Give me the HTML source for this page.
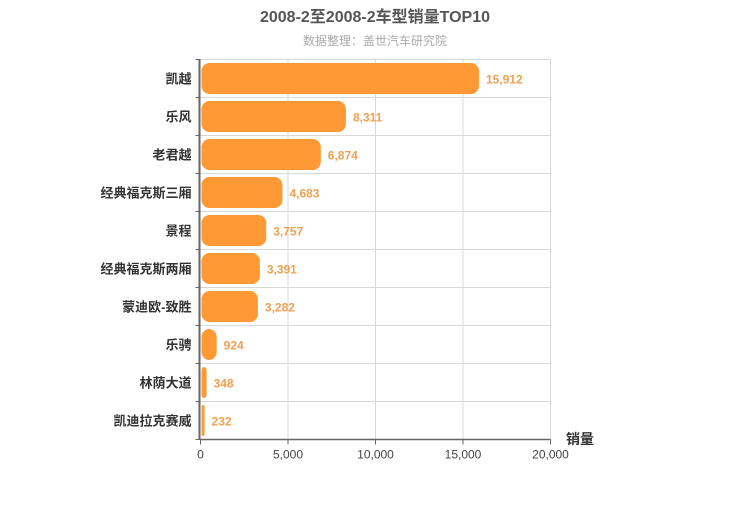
<!DOCTYPE html>
<html><head><meta charset="utf-8"><style>
body{margin:0;background:#fff;}
svg text{font-family:"Liberation Sans","Noto Sans CJK SC",sans-serif;}
</style></head><body>
<svg width="750" height="500">
<text x="375" y="22" text-anchor="middle" font-size="16" font-weight="bold" fill="#555">2008-2至2008-2车型销量TOP10</text>
<text x="375" y="45" text-anchor="middle" font-size="12" fill="#aaa">数据整理：盖世汽车研究院</text>
<g id="grid"></g>
<g id="bars"></g>
<g id="axes"></g>
<text x="580" y="444" text-anchor="middle" font-size="14" font-weight="bold" fill="#333">销量</text>
</svg>
<script>
const categories=["凯越","乐风","老君越","经典福克斯三厢","景程","经典福克斯两厢","蒙迪欧-致胜","乐骋","林荫大道","凯迪拉克赛威"];
const values=[15912,8311,6874,4683,3757,3391,3282,924,348,232];
const xTicks=[0,5000,10000,15000,20000];
const x0=200.5,x1=550.5,yTop=59.5,yBot=439.5,xMax=20000;
const ns="http://www.w3.org/2000/svg";
const band=(yBot-yTop)/categories.length;
function xs(v){return x0+(x1-x0)*v/xMax;}
function mk(p,t,a){const e=document.createElementNS(ns,t);for(const k in a)e.setAttribute(k,a[k]);p.appendChild(e);return e;}
const grid=document.getElementById('grid'),bars=document.getElementById('bars'),axes=document.getElementById('axes');
xTicks.forEach(t=>{if(t>0){const l=mk(grid,'line',{x1:xs(t),x2:xs(t),y1:yTop,y2:yBot,stroke:'#d8d8d8'});

}
const tk=mk(axes,'line',{x1:xs(t),x2:xs(t),y1:yBot,y2:yBot+5,stroke:'#666'});


const tl=mk(axes,'text',{x:xs(t),y:yBot+19,'text-anchor':'middle','font-size':12,fill:'#444'});
tl.textContent=t.toLocaleString('en-US');

});
for(let i=1;i<categories.length;i++){const l=mk(grid,'line',{x1:x0,x2:x1,y1:yTop+band*i,y2:yTop+band*i,stroke:'#d8d8d8'});

}
mk(grid,'line',{x1:x0,x2:x1,y1:yTop,y2:yTop,stroke:'#d8d8d8'});
categories.forEach((c,i)=>{const cy=yTop+band*(i+0.5);const w=xs(values[i])-x0;
const r=mk(bars,'rect',{x:x0+1,y:cy-15.5,width:Math.max(w-1,1),height:31,rx:Math.min(8,w/2),fill:'#ff9933'});


const v=mk(bars,'text',{x:xs(values[i])+7,y:cy+5,'font-size':12,'font-weight':'bold',fill:'#f0a050'});
v.textContent=values[i].toLocaleString('en-US');


const cl=mk(axes,'text',{x:x0-9,y:cy+5,'text-anchor':'end','font-size':13,'font-weight':'bold',fill:'#333'});
cl.textContent=c;

});
for(let i=0;i<=categories.length;i++){const t=mk(axes,'line',{x1:x0-5,x2:x0,y1:yTop+band*i,y2:yTop+band*i,stroke:'#666'});

}
const ya=mk(axes,'line',{x1:x0-1,x2:x0-1,y1:yTop,y2:yBot,stroke:'#666','stroke-width':2});


const xa=mk(axes,'line',{x1:x0,x2:x1,y1:yBot,y2:yBot,stroke:'#666','stroke-width':1.5});


</script>
</body></html>
